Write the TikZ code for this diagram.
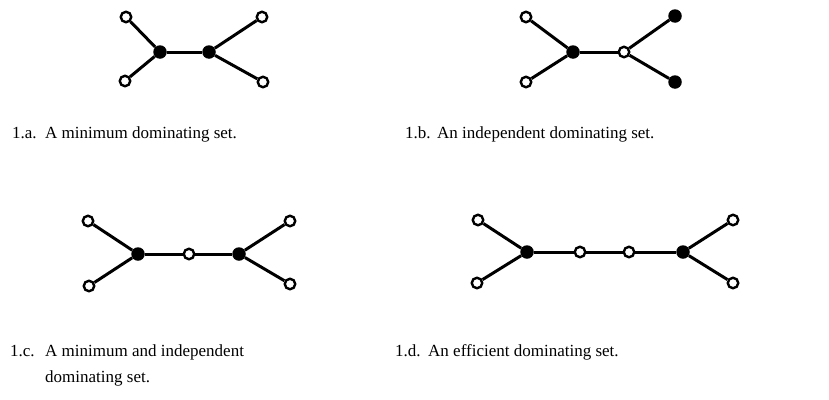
\documentclass[tikz,border=0pt]{standalone}
\usepackage{fontspec}
\setmainfont{Liberation Serif}
\usetikzlibrary{positioning}

\begin{document}
\begin{tikzpicture}[x=1pt, y=-1pt,
  open/.style={circle, draw, line width=2.4pt, fill=white, minimum size=10.5pt, inner sep=0pt},
  dom/.style={circle, fill=black, minimum size=13.5pt, inner sep=0pt},
  edge/.style={draw, line width=3pt},
  caption/.style={anchor=base west, inner sep=0pt, font=\fontsize{17}{26}\selectfont}
]
\useasboundingbox (0,0) rectangle (829,399);

% 1.a
\node[open] (a1) at (126,17) {};
\node[open] (a2) at (125,81) {};
\node[dom]  (a3) at (160,52) {};
\node[dom]  (a4) at (209,52) {};
\node[open] (a5) at (262,17) {};
\node[open] (a6) at (263,82) {};

% 1.b
\node[open] (b1) at (526,17) {};
\node[open] (b2) at (526,82) {};
\node[dom]  (b3) at (573,52) {};
\node[open] (b4) at (624,52) {};
\node[dom]  (b5) at (675,16) {};
\node[dom]  (b6) at (675,82) {};

% 1.c
\node[open] (c1) at (88,221) {};
\node[open] (c2) at (89,286) {};
\node[dom]  (c3) at (138,254) {};
\node[open] (c4) at (189,254) {};
\node[dom]  (c5) at (239,254) {};
\node[open] (c6) at (290,221) {};
\node[open] (c7) at (290,284) {};

% 1.d
\node[open] (d1) at (478,220) {};
\node[open] (d2) at (477,283) {};
\node[dom]  (d3) at (527,252) {};
\node[open] (d4) at (580,252) {};
\node[open] (d5) at (629,252) {};
\node[dom]  (d6) at (683,252) {};
\node[open] (d7) at (733,220) {};
\node[open] (d8) at (733,283) {};

% Edges
\draw[edge] (a1) -- (a3) -- (a2);
\draw[edge] (a3) -- (a4);
\draw[edge] (a5) -- (a4) -- (a6);

\draw[edge] (b1) -- (b3) -- (b2);
\draw[edge] (b3) -- (b4);
\draw[edge] (b5) -- (b4) -- (b6);

\draw[edge] (c1) -- (c3) -- (c2);
\draw[edge] (c3) -- (c4) -- (c5);
\draw[edge] (c6) -- (c5) -- (c7);

\draw[edge] (d1) -- (d3) -- (d2);
\draw[edge] (d3) -- (d4) -- (d5) -- (d6);
\draw[edge] (d7) -- (d6) -- (d8);

% Captions
\node[caption] (numa) at (12,138) {1.a.};
\node[caption] (capa) at (45,138) {A minimum dominating set.};
\node[caption] (numb) at (405,138) {1.b.};
\node[caption] (capb) at (437,138) {An independent dominating set.};
\node[caption] (numc) at (10,356) {1.c.};
\node[caption] (capc) at (45,356) {A minimum and independent};
\node[caption] (capc2) at (45,382) {dominating set.};
\node[caption] (numd) at (395,356) {1.d.};
\node[caption] (capd) at (428,356) {An efficient dominating set.};

\end{tikzpicture}
\end{document}
